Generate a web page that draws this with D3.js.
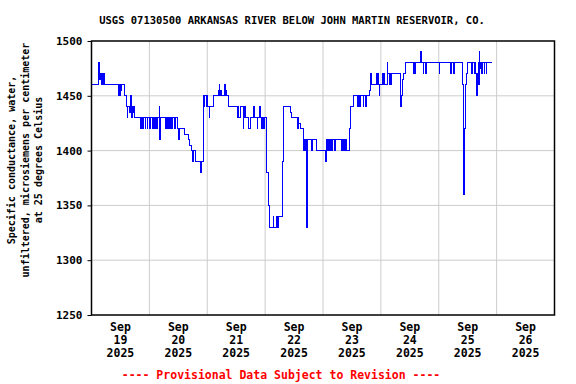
<!DOCTYPE html>
<html>
<head>
<meta charset="utf-8">
<script src="https://cdn.jsdelivr.net/npm/d3@7"></script>
<style>
  html, body { margin: 0; padding: 0; background: #fff; }
  svg text { font-family: "DejaVu Sans Mono", "Liberation Mono", monospace; font-weight: bold; }
</style>
</head>
<body>
<svg id="chart" width="576" height="384" viewBox="0 0 576 384"></svg>
<script>
const titleText = "USGS 07130500 ARKANSAS RIVER BELOW JOHN MARTIN RESERVOIR, CO.";
const yLabelLines = [
  "Specific conductance, water,",
  "unfiltered, microsiemens per centimeter",
  "at 25 degrees Celsius",
];
const footerText = "---- Provisional Data Subject to Revision ----";

const yTicks = [1250, 1300, 1350, 1400, 1450, 1500];
const dayLabels = ["19", "20", "21", "22", "23", "24", "25", "26"];

// step change points, hours after 2025-09-19 00:00 (MST) and value
const hours = [
  0.0, 3.1, 3.3, 3.5, 3.8, 4.1, 4.4, 4.6, 5.0, 5.2,
  11.0, 11.3, 11.6, 11.9, 12.3, 12.5, 13.6, 14.5, 14.9, 15.1,
  15.75, 16.1, 16.4, 16.7, 16.9, 17.2, 17.5, 18.0,
  20.4, 20.7, 21.2, 21.5, 22.2, 22.5, 23.1, 23.4, 24.25, 24.5,
  25.4, 25.7, 26.3, 26.6, 27.0, 27.3, 28.0, 28.25, 28.5,
  30.5, 30.75, 31.1, 31.4, 31.8, 32.1, 32.5, 32.8, 33.2, 33.5,
  34.6, 34.9, 35.6, 36.0, 36.4, 38.75, 40.1, 40.8, 41.5, 41.75,
  42.3, 43.3, 45.0, 45.4, 45.6, 46.3, 46.6, 46.8, 47.0, 47.5,
  47.9, 48.3, 48.8, 49.0, 50.5, 52.8, 53.0, 53.2, 53.5, 53.9,
  55.3, 55.5, 55.75, 56.0, 56.7,
  60.4, 60.7, 61.1, 61.8, 62.9, 63.2, 63.6, 64.0, 65.3, 66.1,
  67.1, 67.4, 68.7, 69.0, 69.8, 70.1, 70.5, 71.1, 71.4, 71.8,
  72.6, 73.2, 73.7, 75.4, 75.6, 76.9, 77.1, 77.3, 77.5, 77.7,
  79.4, 79.8, 82.7, 83.0, 85.5, 85.75, 86.0, 86.8, 87.8,
  88.1, 88.4, 88.6, 88.9, 89.0, 89.25, 89.5, 91.3, 91.5, 93.1,
  97.2, 97.5, 98.0, 98.25, 98.6, 98.85, 99.2, 99.4, 99.5, 99.7,
  99.8, 100.0, 100.9, 101.15, 103.7, 103.95, 104.4, 104.65, 105.1, 105.35,
  105.8, 106.9, 107.2, 108.8,
  110.2, 110.45, 110.7, 110.95, 111.3, 111.55, 112.7, 112.95, 113.8, 114.05,
  115.1, 115.7, 115.9, 116.3, 118.2, 118.5, 118.9, 119.2, 119.3, 119.6,
  120.7, 120.9, 121.25, 121.7, 122.6, 122.8, 123.7, 124.0, 124.3, 124.5,
  128.3, 128.6, 128.8, 129.2, 130.2,
  133.7, 133.95, 134.1, 134.35, 136.6, 136.85, 137.5, 137.8, 138.6, 139.1,
  144.2, 144.45, 148.8, 149.2, 150.25, 150.7, 153.7, 154.0, 154.4, 154.7,
  155.0, 155.3, 155.6, 156.1, 157.6, 158.2, 158.7, 159.0, 159.4, 159.8,
  160.0, 160.4, 160.6, 160.9, 161.1, 161.4, 161.6, 162.1, 162.8, 163.1,
  163.6, 163.9, 165.9,
];
const values = [
  1460, 1480, 1470, 1465, 1470, 1460, 1470, 1460, 1470, 1460,
  1450, 1460, 1450, 1460, 1455, 1460, 1450, 1440, 1430, 1440,
  1435, 1450, 1440, 1430, 1440, 1435, 1440, 1430,
  1420, 1430, 1420, 1430, 1420, 1430, 1420, 1430, 1420, 1430,
  1420, 1430, 1420, 1430, 1420, 1430, 1440, 1410, 1430,
  1420, 1430, 1420, 1430, 1420, 1430, 1420, 1430, 1420, 1430,
  1420, 1430, 1420, 1410, 1420, 1415, 1410, 1405, 1400, 1390,
  1400, 1390, 1385, 1380, 1390, 1440, 1450, 1440, 1450, 1440,
  1450, 1440, 1430, 1440, 1450, 1455, 1460, 1450, 1455, 1450,
  1460, 1450, 1455, 1450, 1440,
  1430, 1440, 1430, 1440, 1420, 1430, 1440, 1430, 1420, 1430,
  1440, 1430, 1420, 1430, 1440, 1430, 1420, 1430, 1420, 1430,
  1380, 1350, 1330, 1340, 1330, 1340, 1330, 1340, 1330, 1340,
  1390, 1440, 1435, 1430, 1420, 1430, 1425, 1420, 1410,
  1400, 1410, 1400, 1410, 1370, 1330, 1410, 1400, 1410, 1400,
  1390, 1410, 1400, 1410, 1400, 1410, 1400, 1410, 1400, 1410,
  1400, 1410, 1400, 1410, 1400, 1410, 1400, 1410, 1400, 1410,
  1400, 1420, 1440, 1450,
  1440, 1450, 1440, 1450, 1440, 1450, 1440, 1450, 1440, 1450,
  1455, 1460, 1470, 1460, 1470, 1460, 1470, 1460, 1450, 1460,
  1470, 1460, 1470, 1460, 1480, 1470, 1460, 1470, 1460, 1470,
  1440, 1450, 1465, 1470, 1480,
  1470, 1480, 1470, 1480, 1490, 1480, 1470, 1480, 1470, 1480,
  1470, 1480, 1470, 1480, 1470, 1480, 1470, 1460, 1360, 1420,
  1450, 1460, 1470, 1480, 1470, 1480, 1470, 1480, 1470, 1450,
  1470, 1480, 1460, 1490, 1475, 1480, 1470, 1480, 1470, 1480,
  1470, 1480, 1480,
];

const svg = d3.select("#chart");

const margin = { top: 41, right: 21.5, bottom: 69, left: 91.5 };
const width = 576 - margin.left - margin.right;
const height = 384 - margin.top - margin.bottom;

const start = new Date(2025, 8, 19);
const end = new Date(2025, 8, 27);
const hourMs = 3600 * 1000;

const data = hours.map((h, i) => ({ date: new Date(+start + h * hourMs), value: values[i] }));

const x = d3.scaleTime().domain([start, end]).range([0, width]);
const y = d3.scaleLinear().domain([1250, 1500]).range([height, 0]);

const g = svg.append("g").attr("transform", `translate(${margin.left},${margin.top})`);

// grid lines: midnight verticals and value horizontals
const midnights = d3.timeDay.range(start, d3.timeDay.offset(end, 1));
g.append("g")
  .selectAll("line")
  .data(midnights.slice(1, -1))
  .enter()
  .append("line")
  .attr("x1", (d) => x(d))
  .attr("x2", (d) => x(d))
  .attr("y1", 0)
  .attr("y2", height)
  .attr("stroke", "#cccccc")
  .attr("stroke-width", 1);

g.append("g")
  .selectAll("line")
  .data(yTicks.slice(1, -1))
  .enter()
  .append("line")
  .attr("x1", 0)
  .attr("x2", width)
  .attr("y1", (d) => y(d))
  .attr("y2", (d) => y(d))
  .attr("stroke", "#cccccc")
  .attr("stroke-width", 1);

// data line
const line = d3
  .line()
  .x((d) => x(d.date))
  .y((d) => y(d.value))
  .curve(d3.curveStepAfter);

g.append("path")
  .datum(data)
  .attr("fill", "none")
  .attr("stroke", "#0000ff")
  .attr("stroke-width", 1)
  .attr("shape-rendering", "crispEdges")
  .attr("d", line);

// plot frame
g.append("rect")
  .attr("x", 0)
  .attr("y", 0)
  .attr("width", width)
  .attr("height", height)
  .attr("fill", "none")
  .attr("stroke", "#000")
  .attr("stroke-width", 1.5);

// y axis
const yAxis = d3
  .axisLeft(y)
  .tickValues(yTicks)
  .tickFormat(d3.format("d"))
  .tickSize(4)
  .tickPadding(5);
const yAxisG = g.append("g").call(yAxis);
yAxisG.select(".domain").remove();
yAxisG.selectAll("line").attr("stroke", "#000");
yAxisG
  .selectAll("text")
  .attr("fill", "#000")
  .style("font-size", "11px")
  .style("font-family", "'DejaVu Sans Mono', monospace")
  .style("font-weight", "bold");

// x labels at noon of each day
const noons = dayLabels.map((d, i) => new Date(+d3.timeDay.offset(start, i) + 12 * hourMs));
const xLab = g
  .append("g")
  .selectAll("text")
  .data(noons)
  .enter()
  .append("text")
  .attr("x", (d) => x(d))
  .attr("y", height + 16)
  .attr("text-anchor", "middle")
  .attr("fill", "#000")
  .style("font-size", "11.5px");

xLab.append("tspan").attr("x", (d) => x(d)).text("Sep");
xLab.append("tspan").attr("x", (d) => x(d)).attr("dy", 13).text((d, i) => dayLabels[i]);
xLab.append("tspan").attr("x", (d) => x(d)).attr("dy", 13).text("2025");

// title
svg
  .append("text")
  .attr("x", 292)
  .attr("y", 24)
  .attr("text-anchor", "middle")
  .attr("fill", "#000")
  .style("font-size", "10.5px")
  .text(titleText);

// y label, three rotated lines
svg
  .append("g")
  .selectAll("text")
  .data(yLabelLines)
  .enter()
  .append("text")
  .attr("transform", (d, i) => `translate(${15 + i * 13.5},160) rotate(-90)`)
  .attr("text-anchor", "middle")
  .attr("fill", "#000")
  .style("font-size", "10px")
  .text((d) => d);

// provisional note
svg
  .append("text")
  .attr("x", 281)
  .attr("y", 379)
  .attr("text-anchor", "middle")
  .attr("fill", "#ff0000")
  .style("font-size", "11.5px")
  .text(footerText);
</script>
</body>
</html>
